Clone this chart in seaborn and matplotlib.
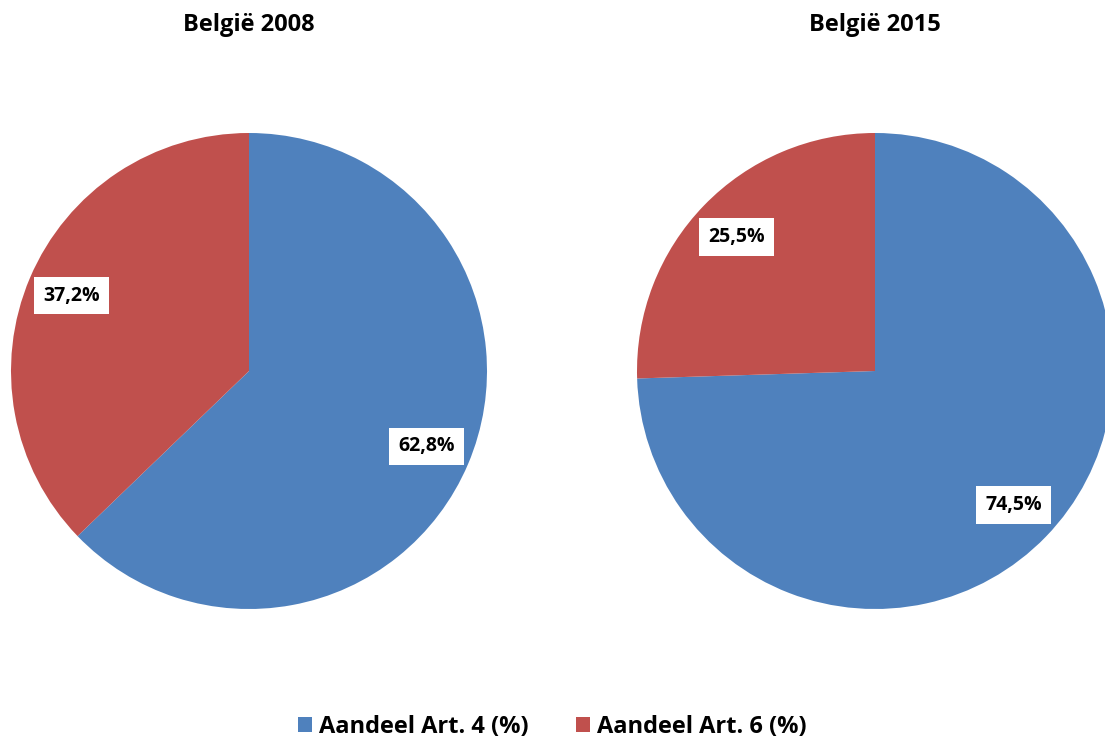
import matplotlib
matplotlib.use("Agg")
import matplotlib.pyplot as plt
from matplotlib.patches import Patch
import seaborn as sns

categories = ["Aandeel Art. 4 (%)", "Aandeel Art. 6 (%)"]
values_2008 = [62.8, 37.2]
values_2015 = [74.5, 25.5]
titles = ["België 2008", "België 2015"]
colors = ["#4F81BD", "#C0504D"]

sns.set_theme(style="white")
plt.rcParams['font.family'] = ['Open Sans', 'DejaVu Sans']
plt.rcParams['text.color'] = 'black'

W, H = 1105, 740
fig = plt.figure(figsize=(W / 100, H / 100), dpi=100)
R = 238
centers = [(249, 371), (875, 371)]

for (cx, cy), vals, title in zip(centers, [values_2008, values_2015], titles):
    ax = fig.add_axes([(cx - R) / W, (H - cy - R) / H, 2 * R / W, 2 * R / H])
    labels = [f"{v:.1f}%".replace('.', ',') for v in vals]
    wedges, texts = ax.pie(vals, colors=colors, startangle=90, counterclock=False,
                           labels=labels, labeldistance=0.81, radius=1,
                           wedgeprops=dict(linewidth=0))
    for t in texts:
        t.set_ha('center')
        t.set_va('center')
        t.set_fontsize(14)
        t.set_fontweight('bold')
        t.set_color('black')
        t.set_bbox(dict(facecolor='white', edgecolor='none', pad=6.5))
    ax.set_xlim(-1, 1)
    ax.set_ylim(-1, 1)
    ax.set_aspect('equal')
    ax.axis('off')
    fig.text(cx / W, 1 - 25 / H, title, ha='center', va='center',
             fontsize=17, fontweight='bold', color='black')

handles = [Patch(facecolor=c, edgecolor='none') for c in colors]
leg = fig.legend(handles, categories, loc='center', bbox_to_anchor=(0.5, 1 - 727 / H),
                 ncol=2, frameon=False, handlelength=0.6, handleheight=0.6,
                 handletextpad=0.3, columnspacing=2.0,
                 prop=dict(size=17, weight='bold'))
for t in leg.get_texts():
    t.set_color('black')

fig.savefig("out.png", dpi=100)
